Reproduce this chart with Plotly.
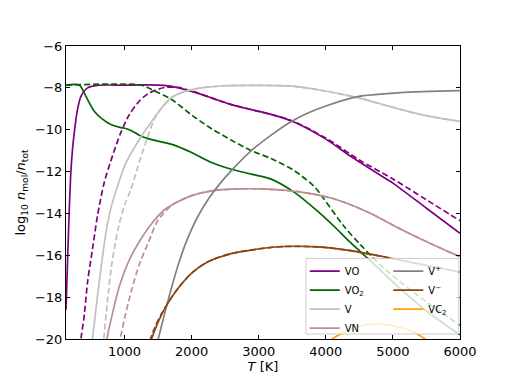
import plotly.graph_objects as go

# Values (T in K, log10 n_mol/n_tot); "eq" = dashed curves
vo_t = [127, 150, 175, 200, 225, 252, 292, 351, 449, 597, 1000, 1400, 1704, 2000, 2296, 2592, 2889, 3185, 3500, 4000, 4370, 4800, 5000, 5500, 6000]
vo_y = [-18.6, -16.3, -13.9, -12.0, -10.9, -10.1, -9.15, -8.4, -8.0, -7.88, -7.87, -7.86, -7.93, -8.17, -8.48, -8.8, -9.04, -9.27, -9.6, -10.45, -11.27, -12.15, -12.55, -13.75, -14.95]
vo_eq_t = [340, 352, 400, 449, 523, 597, 697, 820, 944, 1067, 1215, 1363, 1600, 1800, 2000, 2296, 2592, 2889, 3185, 3500, 4000, 4500, 5000, 5500, 6000]
vo_eq_y = [-20.4, -19.95, -18.85, -17.26, -15.68, -14.1, -12.52, -11.25, -10.14, -9.3, -8.65, -8.25, -7.98, -7.98, -8.15, -8.48, -8.8, -9.04, -9.27, -9.58, -10.4, -11.45, -12.35, -13.35, -14.35]

vo2_t = [127, 327, 400, 475, 548, 647, 796, 944, 1018, 1116, 1240, 1388, 1704, 2000, 2296, 2592, 2889, 3185, 3526, 3881, 4118, 4370, 4711, 5110, 5600, 6000]
vo2_y = [-7.87, -7.87, -8.25, -8.72, -9.12, -9.43, -9.75, -9.9, -9.94, -10.07, -10.3, -10.46, -10.7, -11.09, -11.57, -11.89, -12.12, -12.36, -12.98, -13.9, -14.6, -15.4, -16.4, -17.6, -18.9, -19.8]
vo2_eq_t = [127, 1250, 1407, 1704, 2000, 2296, 2592, 2889, 3185, 3526, 3822, 3970, 4267, 4518, 4859, 5363, 6000]
vo2_eq_y = [-7.87, -7.87, -8.09, -8.56, -9.3, -9.95, -10.5, -11.0, -11.38, -11.95, -12.7, -13.3, -14.6, -15.5, -16.6, -17.9, -19.35]

v_t = [500, 523, 593, 716, 800, 890, 1018, 1166, 1264, 1407, 1555, 1704, 1901, 2148, 2493, 3000, 3500, 3881, 4474, 4963, 5452, 6000]
v_y = [-20.6, -19.95, -18.05, -15.05, -13.7, -12.75, -11.6, -10.75, -10.25, -9.6, -8.95, -8.45, -8.17, -8.0, -7.9, -7.88, -7.92, -8.09, -8.47, -8.9, -9.3, -9.6]
v_eq_t = [680, 692, 741, 815, 914, 1000, 1090, 1215, 1338, 1450, 1555, 1704, 1901, 2148, 2493, 3000, 3500, 3881, 4474, 4963, 5452, 6000]
v_eq_y = [-20.4, -19.95, -18.3, -16.3, -14.6, -13.6, -12.9, -11.6, -10.4, -9.45, -8.95, -8.45, -8.17, -8.0, -7.9, -7.88, -7.92, -8.09, -8.47, -8.9, -9.3, -9.6]

vn_t = [720, 741, 815, 914, 1037, 1185, 1382, 1581, 1778, 2000, 2296, 2700, 3037, 3630, 4118, 4622, 5110, 5600, 6000]
vn_y = [-21.0, -19.95, -18.85, -17.58, -16.47, -15.53, -14.58, -13.86, -13.47, -13.15, -12.92, -12.83, -12.83, -12.98, -13.3, -13.93, -14.74, -15.5, -16.07]
vn_eq_t = [920, 938, 1012, 1111, 1234, 1359, 1482, 1581, 1700, 1778, 2000, 2296, 2700, 3037, 3630, 4118, 4622, 5110, 5600, 6000]
vn_eq_y = [-20.3, -19.95, -18.85, -17.58, -16.31, -15.36, -14.41, -14.0, -13.62, -13.47, -13.15, -12.92, -12.83, -12.83, -12.98, -13.3, -13.93, -14.74, -15.5, -16.07]

vp_t = [1480, 1506, 1600, 1700, 1800, 1896, 2000, 2100, 2252, 2415, 2637, 2889, 3185, 3437, 3700, 3970, 4474, 5110, 6000]
vp_y = [-20.3, -19.95, -18.75, -17.55, -16.45, -15.55, -14.75, -14.1, -13.3, -12.6, -11.8, -11.0, -10.26, -9.7, -9.25, -8.9, -8.42, -8.23, -8.13]

vm_t = [1390, 1407, 1506, 1630, 1778, 2000, 2250, 2590, 2990, 3380, 3880, 4370, 4860, 5360, 6000]
vm_y = [-20.1, -19.95, -19.15, -18.37, -17.66, -16.85, -16.3, -15.92, -15.7, -15.58, -15.6, -15.78, -16.07, -16.4, -16.8]
vm_eq_t = [1375, 1450, 1540, 1630, 1778, 2000, 2250, 2590, 2990, 3380, 3880, 4370, 4860, 5360, 6000]
vm_eq_y = [-20.1, -19.45, -18.85, -18.37, -17.66, -16.85, -16.3, -15.92, -15.7, -15.58, -15.6, -15.78, -16.07, -16.4, -16.8]

vc2_t = [4000, 4100, 4474, 4859, 5259, 5481, 5600]
vc2_y = [-20.4, -20.0, -19.4, -19.3, -19.6, -20.0, -20.3]

x_ticks = [1000, 2000, 3000, 4000, 5000, 6000]
y_ticks = [-20, -18, -16, -14, -12, -10, -8, -6]

FONT = "DejaVu Sans"

fig = go.Figure()


def add_line(x, y, color, name=None, dashed=False, legend="legend"):
    fig.add_trace(
        go.Scatter(
            x=x,
            y=y,
            mode="lines",
            line=dict(color=color, width=1.7, dash="6px,3px" if dashed else "solid",
                      shape="spline", smoothing=0.8),
            name=name,
            showlegend=name is not None,
            legend=legend,
            hoverinfo="skip",
        )
    )


add_line(vo_t, vo_y, "#800080", "VO")
add_line(vo_eq_t, vo_eq_y, "#800080", dashed=True)
add_line(vo2_t, vo2_y, "#006400", "VO<sub>2</sub>")
add_line(vo2_eq_t, vo2_eq_y, "#006400", dashed=True)
add_line(v_t, v_y, "#c0c0c0", "V")
add_line(v_eq_t, v_eq_y, "#c0c0c0", dashed=True)
add_line(vn_t, vn_y, "#bc8f8f", "VN")
add_line(vn_eq_t, vn_eq_y, "#bc8f8f", dashed=True)
add_line(vp_t, vp_y, "#808080", "V<sup>+</sup>", legend="legend2")
add_line(vm_t, vm_y, "#8b4513", "V<sup>\u2212</sup>", legend="legend2")
add_line(vm_eq_t, vm_eq_y, "#8b4513", dashed=True)
add_line(vc2_t, vc2_y, "#ffa500", "VC<sub>2</sub>", legend="legend2")

# Legend frame (two legend columns share one box)
fig.add_shape(
    type="rect", xref="paper", yref="paper",
    x0=0.609, x1=0.997, y0=0.017, y1=0.275,
    line=dict(color="#cccccc", width=1),
    fillcolor="rgba(255,255,255,0.8)",
    layer="above",
)

axis_common = dict(
    showline=True, linecolor="black", linewidth=1, mirror="allticks",
    ticks="inside", ticklen=4, tickwidth=1, tickcolor="black",
    showgrid=False, zeroline=False,
    tickfont=dict(family=FONT, size=13, color="black"),
)

legend_common = dict(
    bgcolor="rgba(0,0,0,0)", borderwidth=0,
    font=dict(family=FONT, size=10, color="black"),
    yanchor="top", xanchor="left", y=0.281,
    tracegroupgap=0,
)

# page body adds 8 px around the figure, so the figure is 8 px smaller
fig.update_layout(
    width=504,
    height=376,
    margin=dict(l=56, r=52, t=38, b=43),
    paper_bgcolor="white",
    plot_bgcolor="white",
    font=dict(family=FONT, size=13, color="black"),
    xaxis=dict(
        range=[127, 6000], tickvals=x_ticks,
        title=dict(text="<i>T</i> [K]", standoff=4, font=dict(family=FONT, size=13)),
        **axis_common,
    ),
    yaxis=dict(
        range=[-20, -6], tickvals=y_ticks,
        title=dict(text="log<sub>10</sub> <i>n</i><sub>mol</sub>/<i>n</i><sub>tot</sub>",
                   standoff=6, font=dict(family=FONT, size=13)),
        **axis_common,
    ),
    legend=dict(x=0.606, **legend_common),
    legend2=dict(x=0.818, **legend_common),
)

fig.write_html("out.html")
